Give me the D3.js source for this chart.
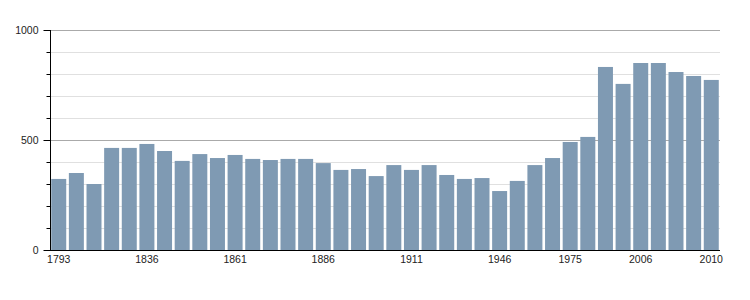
<!DOCTYPE html>
<html><head><meta charset="utf-8">
<script src="https://cdn.jsdelivr.net/npm/d3@7"></script>
<style>body{margin:0;background:#fff}svg{display:block}text{font-family:"Liberation Sans",Arial,sans-serif;fill:#222}</style>
</head><body>
<svg id="c" width="750" height="300"></svg>
<script>
const years = ["1793","1800","1806","1821","1831","1836","1841","1846","1851","1856","1861","1866","1872","1876","1881","1886","1891","1896","1901","1906","1911","1921","1926","1931","1936","1946","1954","1962","1968","1975","1982","1990","1999","2006","2007","2008","2009","2010"];
const population = [323,350,300,464,464,482,450,405,436,418,432,414,409,414,414,395,364,368,336,386,364,386,341,323,327,268,314,386,418,491,514,832,755,850,850,809,791,773];
const xLabels = ["1793","1836","1861","1886","1911","1946","1975","2006","2010"];
const yMajor = [0,500,1000];
const yMinor = [100,200,300,400,600,700,800,900];

const svg = d3.select("#c");
const L=50, R=720, T=30, B=250;
const x = d3.scaleBand().domain(years).range([L,R]).paddingInner(0.15).paddingOuter(0.07);
const y = d3.scaleLinear().domain([0,1000]).range([B,T]);

svg.append("g").selectAll("line").data(yMinor).join("line")
  .attr("x1",L).attr("x2",R).attr("y1",d=>y(d)+0.5).attr("y2",d=>y(d)+0.5)
  .attr("stroke","#e0e0e0");
svg.append("g").selectAll("line").data(yMajor.filter(d=>d>0)).join("line")
  .attr("x1",L).attr("x2",R).attr("y1",d=>y(d)+0.5).attr("y2",d=>y(d)+0.5)
  .attr("stroke","#aaa");

svg.append("g").selectAll("rect").data(years).join("rect")
  .attr("x",d=>x(d)).attr("width",x.bandwidth())
  .attr("y",(d,i)=>y(population[i])).attr("height",(d,i)=>B-y(population[i]))
  .attr("fill","#7f9ab3");

// y axis
const ya = svg.append("g").attr("transform",`translate(${L+0.5},0)`);
ya.append("line").attr("y1",T).attr("y2",B).attr("stroke","#000");
ya.selectAll("line.mn").data(yMinor).join("line").attr("class","mn")
  .attr("x1",-4).attr("x2",0).attr("y1",d=>y(d)+0.5).attr("y2",d=>y(d)+0.5).attr("stroke","#000");
ya.selectAll("line.mj").data(yMajor).join("line").attr("class","mj")
  .attr("x1",-7).attr("x2",0).attr("y1",d=>y(d)+0.5).attr("y2",d=>y(d)+0.5).attr("stroke","#000");
ya.selectAll("text").data(yMajor).join("text")
  .attr("x",-12).attr("y",d=>y(d)).attr("dy","0.35em").attr("text-anchor","end")
  .attr("font-size",10.5).text(d=>d);

// x axis
svg.append("line").attr("x1",L).attr("x2",R).attr("y1",B+0.5).attr("y2",B+0.5).attr("stroke","#000");
svg.append("g").selectAll("text").data(xLabels).join("text")
  .attr("x",d=>x(d)+x.bandwidth()/2).attr("y",B+13).attr("text-anchor","middle")
  .attr("font-size",10.5).text(d=>d);
</script>
</body></html>
